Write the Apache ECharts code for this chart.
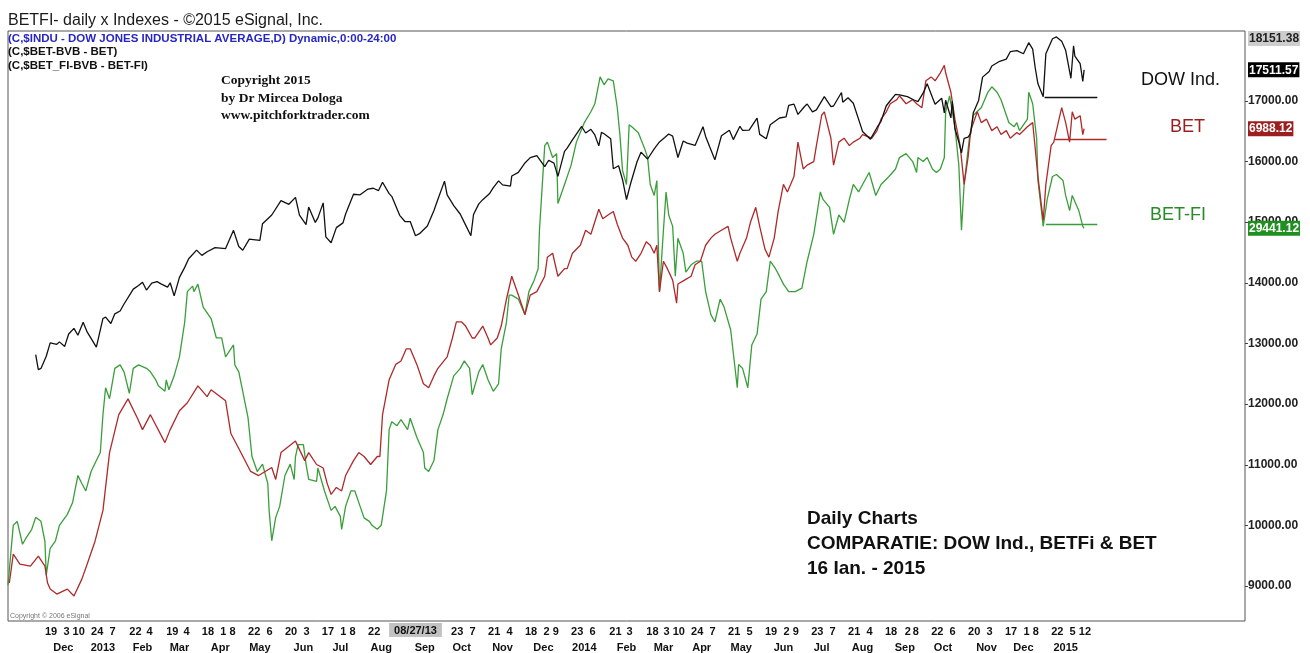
<!DOCTYPE html>
<html>
<head>
<meta charset="utf-8">
<script src="https://cdn.jsdelivr.net/npm/echarts@6/dist/echarts.min.js"></script>
<style>
html,body{margin:0;padding:0;background:#fff;}
#chart{width:1310px;height:653px;}
</style>
</head>
<body>
<div id="chart"></div>
<script>
// ---------------- DATA ----------------
// DOW Jones Industrial Average (daily closes, sampled)
const dowDates = ['2012-11-12','2012-11-14','2012-11-15','2012-11-16','2012-11-20','2012-11-23','2012-11-28','2012-11-30','2012-12-04','2012-12-07','2012-12-11','2012-12-14','2012-12-18','2012-12-21','2012-12-28',
'2013-01-02','2013-01-04','2013-01-08','2013-01-11','2013-01-15','2013-01-18','2013-01-25','2013-01-29','2013-02-01','2013-02-04','2013-02-08','2013-02-12','2013-02-15','2013-02-20','2013-02-22','2013-02-25','2013-03-01','2013-03-05','2013-03-08','2013-03-14','2013-03-18','2013-03-22','2013-03-28','2013-04-05','2013-04-11','2013-04-15','2013-04-18','2013-04-23','2013-04-26','2013-05-01','2013-05-03','2013-05-10','2013-05-17','2013-05-23','2013-05-28','2013-05-31','2013-06-05','2013-06-07','2013-06-12','2013-06-14','2013-06-18','2013-06-20','2013-06-24','2013-06-28','2013-07-03','2013-07-05','2013-07-11','2013-07-16','2013-07-22','2013-07-26','2013-07-30','2013-08-02','2013-08-07','2013-08-09','2013-08-15','2013-08-19','2013-08-23','2013-08-27','2013-08-30','2013-09-05','2013-09-10','2013-09-13','2013-09-18','2013-09-20','2013-09-25','2013-09-30','2013-10-03','2013-10-08','2013-10-10','2013-10-14','2013-10-17','2013-10-22','2013-10-25','2013-10-29','2013-11-01','2013-11-07','2013-11-08','2013-11-13','2013-11-18','2013-11-22','2013-11-27','2013-12-03','2013-12-06','2013-12-10','2013-12-13','2013-12-18','2013-12-20','2013-12-24','2013-12-31',
'2014-01-03','2014-01-07','2014-01-10','2014-01-13','2014-01-15','2014-01-17','2014-01-22','2014-01-24','2014-01-28','2014-01-31','2014-02-03','2014-02-06','2014-02-11','2014-02-14','2014-02-19','2014-02-24','2014-02-28','2014-03-04','2014-03-07','2014-03-10','2014-03-14','2014-03-18','2014-03-21','2014-03-27','2014-04-02','2014-04-04','2014-04-07','2014-04-11','2014-04-16','2014-04-22','2014-04-25','2014-04-30','2014-05-02','2014-05-07','2014-05-13','2014-05-15','2014-05-20','2014-05-23','2014-05-30','2014-06-04','2014-06-06','2014-06-10','2014-06-13','2014-06-18','2014-06-20','2014-06-24','2014-06-27','2014-07-03','2014-07-08','2014-07-10','2014-07-16','2014-07-17','2014-07-21','2014-07-25','2014-07-31','2014-08-01','2014-08-07','2014-08-12','2014-08-15','2014-08-19','2014-08-22','2014-08-26','2014-08-29','2014-09-04','2014-09-09','2014-09-12','2014-09-16','2014-09-19','2014-09-23','2014-09-25','2014-09-30','2014-10-02','2014-10-03','2014-10-07','2014-10-08','2014-10-10','2014-10-13','2014-10-15','2014-10-17','2014-10-20','2014-10-22','2014-10-24','2014-10-28','2014-10-31','2014-11-05','2014-11-07','2014-11-13','2014-11-18','2014-11-21','2014-11-26','2014-12-01','2014-12-05','2014-12-08','2014-12-10','2014-12-12','2014-12-16','2014-12-18','2014-12-19','2014-12-23','2014-12-26','2014-12-30',
'2015-01-02','2015-01-06','2015-01-08','2015-01-09','2015-01-13','2015-01-15','2015-01-16'];
const dowValues = [12815,12570,12542,12588,12788,13010,12986,13026,12951,13155,13249,13135,13351,13190,12938,
13412,13435,13329,13488,13535,13650,13896,13955,14010,13880,13993,14019,13982,13928,14001,13784,14090,14254,14397,14539,14452,14512,14579,14565,14865,14599,14537,14719,14712,14700,14974,15118,15354,15294,15409,15116,14960,15248,14995,15070,15318,14758,14660,14910,14988,15135,15460,15451,15545,15559,15521,15658,15470,15425,15112,15010,15010,14776,14810,14937,15191,15376,15676,15451,15273,15130,14996,14776,15126,15301,15371,15467,15570,15680,15615,15593,15761,15821,15976,16064,16097,15915,16020,15973,15755,16167,16221,16357,16577,
16470,16531,16437,16257,16481,16458,16374,15880,15929,15699,15373,15628,15995,16154,16041,16208,16322,16396,16453,16419,16066,16337,16303,16264,16573,16413,16246,16027,16425,16514,16361,16581,16513,16518,16716,16447,16374,16606,16717,16737,16924,16946,16776,16907,16948,16818,16852,17068,16906,16915,17138,16977,17052,16961,16563,16493,16368,16561,16663,16919,17001,17107,17098,17069,17014,16988,17131,17280,17056,16945,17043,16801,17010,16719,16994,16544,16321,16142,16380,16400,16462,16805,17006,17391,17484,17574,17652,17687,17810,17828,17776,17959,17853,17533,17281,17069,17778,17805,18024,18053,17983,
17833,17372,17908,17737,17614,17320,17511.57];

// BET index
const betDates = ['2012-10-23','2012-10-26','2012-10-31','2012-11-08','2012-11-14','2012-11-19','2012-11-21','2012-11-23','2012-11-28','2012-12-06','2012-12-11','2012-12-17','2012-12-21','2012-12-27',
'2013-01-02','2013-01-07','2013-01-14','2013-01-21','2013-01-28','2013-02-01','2013-02-07','2013-02-18','2013-02-22','2013-03-01','2013-03-07','2013-03-15','2013-03-22','2013-03-25','2013-04-01','2013-04-05','2013-04-09','2013-04-15','2013-04-24','2013-04-30','2013-05-10','2013-05-13','2013-05-17','2013-05-28','2013-06-04','2013-06-07','2013-06-13','2013-06-18','2013-06-21','2013-06-24','2013-06-28','2013-07-02','2013-07-05','2013-07-11','2013-07-15','2013-07-19','2013-07-24','2013-07-29','2013-07-31','2013-08-02','2013-08-07','2013-08-12','2013-08-16','2013-08-20','2013-08-23','2013-08-28','2013-09-02','2013-09-06','2013-09-10','2013-09-13','2013-09-20','2013-09-24','2013-09-27','2013-10-01','2013-10-04','2013-10-09','2013-10-11','2013-10-17','2013-10-21','2013-10-23','2013-10-28','2013-10-31','2013-11-04','2013-11-08','2013-11-13','2013-11-18','2013-11-22','2013-11-27','2013-12-03','2013-12-05','2013-12-09','2013-12-13','2013-12-18','2013-12-20','2013-12-24','2013-12-30',
'2014-01-03','2014-01-07','2014-01-13','2014-01-16','2014-01-20','2014-01-24','2014-01-27','2014-01-31','2014-02-04','2014-02-07','2014-02-10','2014-02-14','2014-02-18','2014-02-21','2014-02-24','2014-02-26','2014-02-28','2014-03-03','2014-03-06','2014-03-10','2014-03-13','2014-03-14','2014-03-19','2014-03-24','2014-03-27','2014-03-31','2014-04-04','2014-04-08','2014-04-11','2014-04-16','2014-04-21','2014-04-23','2014-04-28','2014-04-30','2014-05-05','2014-05-08','2014-05-12','2014-05-15','2014-05-19','2014-05-22','2014-05-26','2014-05-29','2014-06-02','2014-06-05','2014-06-10','2014-06-13','2014-06-17','2014-06-20','2014-06-25','2014-06-27','2014-07-01','2014-07-03','2014-07-08','2014-07-10','2014-07-14','2014-07-18','2014-07-22','2014-07-25','2014-07-30','2014-08-01','2014-08-08','2014-08-12','2014-08-15','2014-08-19','2014-08-22','2014-08-27','2014-08-29','2014-09-03','2014-09-08','2014-09-11','2014-09-15','2014-09-18','2014-09-22','2014-09-25','2014-09-29','2014-10-02','2014-10-03','2014-10-07','2014-10-10','2014-10-14','2014-10-17','2014-10-20','2014-10-22','2014-10-27','2014-10-30','2014-11-03','2014-11-07','2014-11-11','2014-11-14','2014-11-18','2014-11-21','2014-11-26','2014-11-28','2014-12-04','2014-12-08','2014-12-10','2014-12-12','2014-12-16','2014-12-18','2014-12-22','2014-12-24','2014-12-30',
'2015-01-02','2015-01-05','2015-01-07','2015-01-09','2015-01-13','2015-01-15','2015-01-16'];
const betValues = [4891,5024,4978,4969,5015,4969,4891,4863,4840,4863,4831,4909,4978,5084,
5226,5493,5668,5741,5654,5599,5668,5539,5599,5686,5723,5801,5751,5783,5751,5732,5581,5512,5406,5387,5424,5369,5493,5546,5456,5493,5438,5422,5351,5300,5332,5316,5387,5456,5493,5475,5438,5475,5475,5668,5829,5900,5916,5972,5972,5900,5811,5792,5847,5882,5935,6022,6096,6096,6077,6022,6022,6077,6022,5990,6022,6077,6202,6307,6220,6130,6220,6236,6307,6395,6413,6307,6342,6342,6413,6450,
6519,6501,6616,6572,6590,6606,6547,6483,6450,6395,6376,6413,6466,6450,6413,6450,6236,6376,6342,6289,6183,6271,6289,6307,6360,6376,6450,6483,6501,6519,6537,6483,6376,6413,6483,6556,6625,6537,6432,6395,6483,6606,6731,6696,6767,6926,6802,6820,6836,6910,7050,7066,6944,6820,6926,6944,6910,6926,6944,6961,6944,6979,7032,7066,7103,7122,7140,7103,7122,7103,7085,7209,7227,7209,7246,7280,7246,7156,7032,6910,6731,6855,6979,7066,7016,7032,6979,6997,6961,6979,6944,6970,6961,6997,7016,6892,6767,6565,6731,6910,6926,7085,
7016,6926,7066,7032,7048,6961,6988.12];

// BET-FI index
const fiDates = ['2012-10-22','2012-10-26','2012-10-29','2012-11-02','2012-11-05','2012-11-09','2012-11-12','2012-11-16','2012-11-19','2012-11-20','2012-11-23','2012-11-27','2012-11-30','2012-12-06','2012-12-10','2012-12-14','2012-12-17','2012-12-20','2012-12-24','2012-12-28','2012-12-31',
'2013-01-02','2013-01-04','2013-01-07','2013-01-11','2013-01-15','2013-01-18','2013-01-22','2013-01-25','2013-01-29','2013-02-04','2013-02-07','2013-02-11','2013-02-13','2013-02-18','2013-02-19','2013-02-21','2013-02-25','2013-03-01','2013-03-05','2013-03-07','2013-03-11','2013-03-12','2013-03-15','2013-03-19','2013-03-25','2013-03-29','2013-04-02','2013-04-05','2013-04-11','2013-04-12','2013-04-15','2013-04-18','2013-04-22','2013-04-25','2013-04-29','2013-05-03','2013-05-07','2013-05-08','2013-05-10','2013-05-13','2013-05-16','2013-05-20','2013-05-24','2013-05-27','2013-05-28','2013-05-30','2013-06-03','2013-06-05','2013-06-07','2013-06-13','2013-06-14','2013-06-19','2013-06-24','2013-06-27','2013-07-01','2013-07-02','2013-07-05','2013-07-09','2013-07-12','2013-07-16','2013-07-19','2013-07-23','2013-07-25','2013-07-29','2013-08-01','2013-08-05','2013-08-07','2013-08-09','2013-08-13','2013-08-16','2013-08-21','2013-08-23','2013-08-28','2013-09-02','2013-09-03','2013-09-06','2013-09-10','2013-09-13','2013-09-17','2013-09-20','2013-09-25','2013-09-30','2013-10-03','2013-10-07','2013-10-09','2013-10-14','2013-10-17','2013-10-21','2013-10-25','2013-10-29','2013-10-31','2013-11-04','2013-11-06','2013-11-08','2013-11-13','2013-11-18','2013-11-21','2013-11-25','2013-11-28','2013-11-29','2013-12-03','2013-12-05','2013-12-09','2013-12-12','2013-12-13','2013-12-18','2013-12-23','2013-12-27',
'2014-01-02','2014-01-07','2014-01-10','2014-01-14','2014-01-17','2014-01-20','2014-01-24','2014-01-27','2014-01-29','2014-01-31','2014-02-03','2014-02-05','2014-02-07','2014-02-12','2014-02-17','2014-02-19','2014-02-21','2014-02-24','2014-02-26','2014-02-28','2014-03-03','2014-03-05','2014-03-07','2014-03-10','2014-03-12','2014-03-14','2014-03-18','2014-03-20','2014-03-24','2014-03-28','2014-04-01','2014-04-04','2014-04-08','2014-04-11','2014-04-15','2014-04-18','2014-04-23','2014-04-28','2014-04-29','2014-05-02','2014-05-06','2014-05-09','2014-05-13','2014-05-16','2014-05-20','2014-05-23','2014-05-27','2014-05-30','2014-06-02','2014-06-06','2014-06-11','2014-06-16','2014-06-20','2014-06-25','2014-06-30','2014-07-02','2014-07-07','2014-07-10','2014-07-14','2014-07-18','2014-07-22','2014-07-25','2014-07-29','2014-08-01','2014-08-06','2014-08-11','2014-08-15','2014-08-21','2014-08-26','2014-08-29','2014-09-03','2014-09-08','2014-09-11','2014-09-12','2014-09-16','2014-09-19','2014-09-23','2014-09-26','2014-09-29','2014-10-02','2014-10-03','2014-10-06','2014-10-10','2014-10-13','2014-10-15','2014-10-17','2014-10-21','2014-10-24','2014-10-30','2014-11-04','2014-11-07','2014-11-11','2014-11-14','2014-11-20','2014-11-24','2014-11-26','2014-11-28','2014-12-04','2014-12-05','2014-12-08','2014-12-11','2014-12-12','2014-12-16','2014-12-19','2014-12-23','2014-12-26','2014-12-31',
'2015-01-02','2015-01-05','2015-01-07','2015-01-12','2015-01-15','2015-01-16'];
const fiValues = [21565,22885,22973,22467,22621,22797,23061,22973,22533,21785,22379,22544,22885,23127,23391,23985,23809,23644,24073,24315,24491,
25327,25921,25679,26350,26427,26273,25800,26350,26427,26350,26273,26097,25965,25844,26097,25877,26185,26603,27373,28044,28165,28044,28209,27703,27450,27021,27021,26603,26867,26427,26273,25844,25261,24403,24073,24236,23809,23215,22544,23061,23303,23985,24236,23897,24403,24667,24667,24236,23897,23853,24150,23644,23215,23303,23083,22797,23303,23644,23644,23303,23050,22973,22885,22797,22885,23644,24997,25173,25085,25217,24997,25250,24828,24491,24150,24073,24315,24997,25336,25679,26185,26350,26515,26350,25767,26273,26436,26097,25844,26009,26779,27373,27967,27967,27879,27536,28044,28297,28550,29397,31267,31344,31003,31091,29991,30409,30836,31344,
31773,32015,32191,32785,32609,32741,32697,32103,31509,30717,30409,31729,31685,31553,31179,31003,30409,30167,30497,28044,29397,30244,29736,29485,28385,29221,28891,28473,28636,28715,28715,28044,27536,27373,27879,27703,27197,25921,26436,26350,25921,26867,27109,27879,28044,28715,28550,28385,28209,28044,28044,28121,28715,29309,30244,30079,29903,29309,29736,29573,30079,30409,30244,30409,30673,30167,30409,30585,30750,31003,31091,30915,30673,31003,30915,31003,30750,30673,30750,31003,32015,32367,31685,30836,29397,30409,31428,31936,32103,32444,32565,32444,32279,31773,31685,31773,31597,31850,32444,32191,31428,30497,29485,30079,30585,30629,30497,
30167,29831,30167,29831,29485,29441.12];

// Author's horizontal support lines: [startDate, endDate, level]
const dowSupport = ['2014-12-17', '2015-01-26', 17066];
const betSupport = ['2014-12-25', '2015-02-02', 6937];
const fiSupport  = ['2014-12-18', '2015-01-26', 29540];

// Axis ranges
const dateRange = ['2012-10-22', '2015-05-18'];
const dowRange = [8424, 18151.38];
const betRange = [4715.7, 7438.9];
const fiRange = [20773.1, 33797.1];

// Tick labels
const dowTickValues = [9000, 10000, 11000, 12000, 13000, 14000, 15000, 16000, 17000];
const dowLastTag = 17511.57;
const dowMaxTag = 18151.38;
const betLastTag = 6988.12;
const fiLastTag = 29441.12;

const dayTickDates = ['2012-11-19','2012-12-03','2012-12-10','2012-12-24','2013-01-07','2013-01-22','2013-02-04','2013-02-19','2013-03-04','2013-03-18','2013-04-01','2013-04-08','2013-04-22','2013-05-06','2013-05-20','2013-06-03','2013-06-17','2013-07-01','2013-07-08','2013-07-22','2013-09-23','2013-10-07','2013-10-21','2013-11-04','2013-11-18','2013-12-02','2013-12-09','2013-12-23','2014-01-06','2014-01-21','2014-02-03','2014-02-18','2014-03-03','2014-03-10','2014-03-24','2014-04-07','2014-04-21','2014-05-05','2014-05-19','2014-06-02','2014-06-09','2014-06-23','2014-07-07','2014-07-21','2014-08-04','2014-08-18','2014-09-02','2014-09-08','2014-09-22','2014-10-06','2014-10-20','2014-11-03','2014-11-17','2014-12-01','2014-12-08','2014-12-22','2015-01-05','2015-01-12'];
const dayTickLabels = ['19','3','10','24','7','22','4','19','4','18','1','8','22','6','20','3','17','1','8','22','23','7','21','4','18','2','9','23','6','21','3','18','3','10','24','7','21','5','19','2','9','23','7','21','4','18','2','8','22','6','20','3','17','1','8','22','5','12'];
const monthTickDates = ['2012-12-03','2013-01-02','2013-02-01','2013-03-01','2013-04-01','2013-05-01','2013-06-03','2013-07-01','2013-08-01','2013-09-03','2013-10-01','2013-11-01','2013-12-02','2014-01-02','2014-02-03','2014-03-03','2014-04-01','2014-05-01','2014-06-02','2014-07-01','2014-08-01','2014-09-02','2014-10-01','2014-11-03','2014-12-01','2015-01-02'];
const monthTickLabels = ['Dec','2013','Feb','Mar','Apr','May','Jun','Jul','Aug','Sep','Oct','Nov','Dec','2014','Feb','Mar','Apr','May','Jun','Jul','Aug','Sep','Oct','Nov','Dec','2015'];
const cursorDate = ['2013-08-27'];
const cursorLabel = '08/27/13';

// ---------------- CHART ----------------
const FONT = '"Liberation Sans", Arial, sans-serif';
const SERIF = '"Liberation Serif", "Times New Roman", serif';
const COL_BLACK = '#111111';
const COL_RED = '#ad2a2a';
const COL_GREEN = '#3a9e3a';

// date string -> timestamp (local midnight)
function ts(s) { const p = s.split('-'); return new Date(+p[0], +p[1] - 1, +p[2]).getTime(); }
const dayMap = {}; dayTickDates.forEach((d, i) => dayMap[ts(d)] = dayTickLabels[i]);
const monthMap = {}; monthTickDates.forEach((d, i) => monthMap[ts(d)] = monthTickLabels[i]);
const zip = (a, b) => a.map((d, i) => [ts(d), b[i]]);
const near = (v, m) => { const k = Math.round(v); if (m[k] !== undefined) return m[k]; for (const key in m) { if (Math.abs(+key - v) < 3600000) return m[key]; } return ''; };

const chart = echarts.init(document.getElementById('chart'), null, {renderer: 'canvas'});

function supportLine(s, color) {
  return {
    silent: true, symbol: 'none', animation: false,
    label: {show: false},
    lineStyle: {color: color, width: 1.3, type: 'solid'},
    data: [[{coord: [ts(s[0]), s[2]]}, {coord: [ts(s[1]), s[2]]}]]
  };
}

const baseX = {
  type: 'value', gridIndex: 0, position: 'bottom',
  min: ts(dateRange[0]), max: ts(dateRange[1]),
  axisLine: {show: false}, axisTick: {show: false}, splitLine: {show: false}
};

const tagY = (range, value, bg, fg, vAlign) => ({
  type: 'value', position: 'right', min: range[0], max: range[1],
  axisLine: {show: false}, splitLine: {show: false}, axisTick: {show: false},
  axisLabel: {
    customValues: [value], margin: 3, fontSize: 12, fontWeight: 'bold', fontFamily: FONT,
    color: fg, backgroundColor: bg, padding: [2, 1, 1, 1], verticalAlign: vAlign,
    showMinLabel: true, showMaxLabel: true,
    formatter: v => v.toFixed(2)
  }
});

const option = {
  animation: false,
  backgroundColor: '#ffffff',
  grid: {left: 8, right: 65, top: 31, bottom: 31, show: true, borderColor: '#555', borderWidth: 1, backgroundColor: '#fff', containLabel: false},
  xAxis: [
    Object.assign({}, baseX, {
      axisLabel: {
        customValues: dayTickDates.map(ts), align: 'left', margin: 5, fontSize: 11, fontWeight: 'bold',
        color: '#111', fontFamily: FONT, hideOverlap: false, showMinLabel: true, showMaxLabel: true,
        formatter: v => near(v, dayMap)
      }
    }),
    Object.assign({}, baseX, {
      offset: 17,
      axisLabel: {
        customValues: monthTickDates.map(ts), align: 'center', margin: 4, fontSize: 11, fontWeight: 'bold',
        color: '#111', fontFamily: FONT, hideOverlap: false, showMinLabel: true, showMaxLabel: true,
        formatter: v => near(v, monthMap)
      }
    }),
    Object.assign({}, baseX, {
      axisLabel: {
        customValues: cursorDate.map(ts), align: 'center', margin: 2, fontSize: 11, fontWeight: 'bold',
        color: '#111', fontFamily: FONT, backgroundColor: '#c2c2c2', padding: [2, 5, 1, 5],
        formatter: () => cursorLabel
      }
    })
  ],
  yAxis: [
    {
      type: 'value', position: 'right', min: dowRange[0], max: dowRange[1],
      axisLine: {show: false}, splitLine: {show: false},
      axisTick: {show: true, length: 3, customValues: dowTickValues, lineStyle: {color: '#444'}},
      axisLabel: {
        customValues: dowTickValues.concat([dowLastTag]),
        margin: 3, fontSize: 12, fontWeight: 'bold', color: '#222', fontFamily: FONT,
        formatter: v => {
          if (Math.abs(v - dowLastTag) < 0.01) return '{k|' + dowLastTag.toFixed(2) + '}';
          return v.toFixed(2);
        },
        rich: {
          k: {backgroundColor: '#000', color: '#fff', fontSize: 12, fontWeight: 'bold', fontFamily: FONT, padding: [2, 1, 1, 1]}
        }
      }
    },
    tagY(betRange, betLastTag, '#9c1f1f', '#fff', 'middle'),
    tagY(fiRange, fiLastTag, '#1f8f1f', '#fff', 'middle'),
    tagY(dowRange, dowMaxTag, '#cdcdcd', '#222', 'top')
  ],
  series: [
    {
      name: 'BET-FI', type: 'line', xAxisIndex: 0, yAxisIndex: 2, data: zip(fiDates, fiValues),
      showSymbol: false, symbol: 'none', lineStyle: {color: COL_GREEN, width: 1.3}, z: 2,
      markLine: supportLine(fiSupport, COL_GREEN)
    },
    {
      name: 'BET', type: 'line', xAxisIndex: 0, yAxisIndex: 1, data: zip(betDates, betValues),
      showSymbol: false, symbol: 'none', lineStyle: {color: COL_RED, width: 1.3}, z: 3,
      markLine: supportLine(betSupport, COL_RED)
    },
    {
      name: 'DOW', type: 'line', xAxisIndex: 0, yAxisIndex: 0, data: zip(dowDates, dowValues),
      showSymbol: false, symbol: 'none', lineStyle: {color: COL_BLACK, width: 1.3}, z: 4,
      markLine: supportLine(dowSupport, COL_BLACK)
    }
  ],
  graphic: [
    {type: 'text', x: 8, y: 21, style: {text: 'BETFI- daily x Indexes - \u00a92015 eSignal, Inc.', font: '16px ' + FONT, fill: '#1a1a1a', verticalAlign: 'middle'}},
    {type: 'text', x: 8, y: 38.5, z: 10, style: {text: '(C,$INDU - DOW JONES INDUSTRIAL AVERAGE,D) Dynamic,0:00-24:00', font: 'bold 11.5px ' + FONT, fill: '#2626c4', verticalAlign: 'middle'}},
    {type: 'text', x: 8, y: 52, z: 10, style: {text: '(C,$BET-BVB - BET)', font: 'bold 11.5px ' + FONT, fill: '#111', verticalAlign: 'middle'}},
    {type: 'text', x: 8, y: 65.5, z: 10, style: {text: '(C,$BET_FI-BVB - BET-FI)', font: 'bold 11.5px ' + FONT, fill: '#111', verticalAlign: 'middle'}},
    {type: 'text', x: 221, y: 80.5, z: 10, style: {text: 'Copyright 2015', font: 'bold 13.5px ' + SERIF, fill: '#111', verticalAlign: 'middle'}},
    {type: 'text', x: 221, y: 98.5, z: 10, style: {text: 'by Dr Mircea Dologa', font: 'bold 13.5px ' + SERIF, fill: '#111', verticalAlign: 'middle'}},
    {type: 'text', x: 221, y: 116, z: 10, style: {text: 'www.pitchforktrader.com', font: 'bold 13.5px ' + SERIF, fill: '#111', verticalAlign: 'middle'}},
    {type: 'text', x: 1141, y: 80, z: 10, style: {text: 'DOW Ind.', font: '18px ' + FONT, fill: '#111', verticalAlign: 'middle'}},
    {type: 'text', x: 1170, y: 127.5, z: 10, style: {text: 'BET', font: '18px ' + FONT, fill: '#9a1e1e', verticalAlign: 'middle'}},
    {type: 'text', x: 1150, y: 215, z: 10, style: {text: 'BET-FI', font: '18px ' + FONT, fill: '#2a8a2a', verticalAlign: 'middle'}},
    {type: 'text', x: 807, y: 519, z: 10, style: {text: 'Daily Charts', font: 'bold 19px ' + FONT, fill: '#111', verticalAlign: 'middle'}},
    {type: 'text', x: 807, y: 544, z: 10, style: {text: 'COMPARATIE: DOW Ind., BETFi & BET', font: 'bold 19px ' + FONT, fill: '#111', verticalAlign: 'middle'}},
    {type: 'text', x: 807, y: 569, z: 10, style: {text: '16 Ian. - 2015', font: 'bold 19px ' + FONT, fill: '#111', verticalAlign: 'middle'}},
    {type: 'text', x: 10, y: 616, z: 10, style: {text: 'Copyright \u00a9 2006 eSignal', font: '7px ' + FONT, fill: '#777', verticalAlign: 'middle'}}
  ]
};

chart.setOption(option);
</script>
</body>
</html>
